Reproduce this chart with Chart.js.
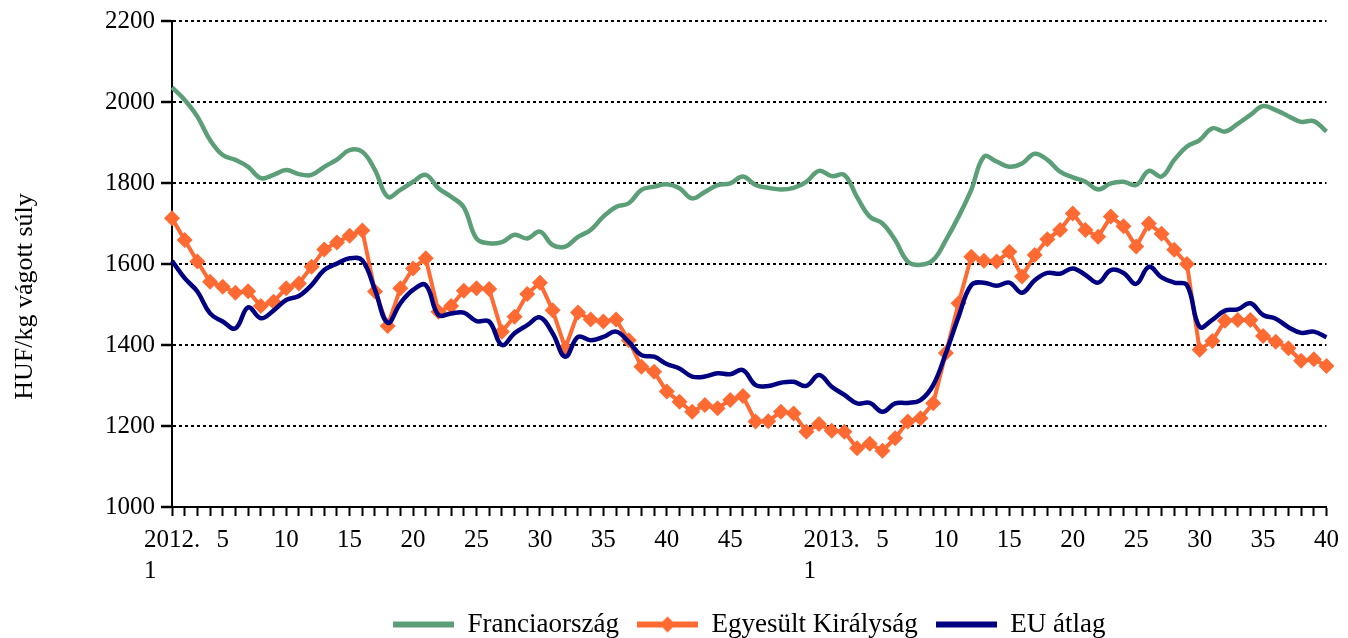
<!DOCTYPE html>
<html lang="hu">
<head>
<meta charset="utf-8">
<title>Sertésárak</title>
<script src="https://cdn.jsdelivr.net/npm/chart.js@4.4.1/dist/chart.umd.min.js"></script>
<style>
  html, body { margin: 0; padding: 0; background: #fff; }
  #grafikon { display: block; }
</style>
</head>
<body>
<canvas id="grafikon" width="1348" height="638"></canvas>
<script>
// Hetek (kategóriák)
const HETEK_2012 = [1, 2, 3, 4, 5, 6, 7, 8, 9, 10, 11, 12, 13, 14, 15, 16, 17, 18, 19, 20,
  21, 22, 23, 24, 25, 26, 27, 28, 29, 30, 31, 32, 33, 34, 35, 36, 37, 38, 39, 40,
  41, 42, 43, 44, 45, 46, 47, 48, 49, 50, 51, 52];
const HETEK_2013 = [1, 2, 3, 4, 5, 6, 7, 8, 9, 10, 11, 12, 13, 14, 15, 16, 17, 18, 19, 20,
  21, 22, 23, 24, 25, 26, 27, 28, 29, 30, 31, 32, 33, 34, 35, 36, 37, 38, 39, 40];

// Feliratozott hetek a vízszintes tengelyen
const FELIRAT_2012 = [1, 5, 10, 15, 20, 25, 30, 35, 40, 45];
const FELIRAT_2013 = [1, 5, 10, 15, 20, 25, 30, 35, 40];

// Árak, HUF/kg vágott súly
const FRANCIAORSZAG = [2036, 2005, 1964, 1906, 1869, 1857, 1840, 1812, 1820, 1832,
  1822, 1820, 1840, 1858, 1881, 1877, 1832, 1766, 1783, 1803,
  1820, 1787, 1766, 1740, 1663, 1651, 1654, 1672, 1663, 1680,
  1647, 1643, 1667, 1684, 1717, 1741, 1750, 1783, 1791, 1797,
  1787, 1762, 1778, 1795, 1799, 1816, 1795, 1788, 1784, 1788,
  1803, 1830, 1817, 1820, 1765, 1717, 1700, 1659, 1606, 1598,
  1610, 1659, 1717, 1783, 1865, 1853, 1840, 1848, 1872, 1857,
  1828, 1814, 1803, 1784, 1799, 1803, 1795, 1830, 1816, 1857,
  1890, 1906, 1935, 1927, 1946, 1968, 1990, 1980, 1965, 1951,
  1953, 1927];

const EGYESULT_KIRALYSAG = [1713, 1659, 1606, 1556, 1544, 1529, 1533, 1496, 1507, 1540,
  1552, 1593, 1636, 1653, 1670, 1683, 1532, 1447, 1540, 1589,
  1614, 1482, 1496, 1534, 1540, 1538, 1433, 1470, 1526, 1554,
  1486, 1392, 1480, 1463, 1458, 1463, 1412, 1346, 1334, 1285,
  1260, 1235, 1252, 1244, 1264, 1274, 1211, 1212, 1235, 1231,
  1186, 1205, 1188, 1186, 1145, 1156, 1139, 1170, 1211, 1219,
  1256, 1380, 1503, 1618, 1608, 1606, 1630, 1569, 1622, 1661,
  1684, 1725, 1684, 1667, 1717, 1693, 1643, 1700, 1675, 1635,
  1600, 1388, 1410, 1460, 1462, 1462, 1422, 1408, 1392, 1361,
  1365, 1348];

const EU_ATLAG = [1608, 1565, 1532, 1478, 1458, 1441, 1493, 1466, 1485, 1511,
  1521, 1548, 1585, 1601, 1614, 1609, 1536, 1455, 1503, 1536,
  1548, 1474, 1478, 1480, 1459, 1458, 1400, 1429, 1449, 1468,
  1429, 1371, 1420, 1412, 1420, 1433, 1408, 1375, 1371, 1353,
  1342, 1322, 1322, 1330, 1328, 1338, 1301, 1299, 1307, 1309,
  1299, 1326, 1297, 1277, 1256, 1257, 1235, 1256, 1257, 1264,
  1301, 1380, 1470, 1548, 1554, 1546, 1554, 1529, 1560, 1578,
  1576, 1589, 1573, 1554, 1585, 1578, 1551, 1593, 1567, 1554,
  1548, 1445, 1462, 1485, 1488, 1503, 1474, 1465, 1444, 1430,
  1433, 1419];

const SZIN_FR = "#5c9e78";
const SZIN_UK = "#ff6a33";
const SZIN_EU = "#000080";
const BETU = '"Liberation Serif", "Times New Roman", serif';
const NBSP = "\u00a0";

const cimkek = HETEK_2012.map((h) => "2012/" + h).concat(HETEK_2013.map((h) => "2013/" + h));

/** Kis vonal (+ rombusz) a jelmagyarázathoz */
function jelmagyarazatIkon(szin, rombusz) {
  const c = document.createElement("canvas");
  c.width = 61;
  c.height = 18;
  const g = c.getContext("2d");
  g.strokeStyle = szin;
  g.lineWidth = 6;
  g.beginPath();
  g.moveTo(0, 9);
  g.lineTo(61, 9);
  g.stroke();
  if (rombusz) {
    g.fillStyle = szin;
    g.beginPath();
    g.moveTo(30.5, 1);
    g.lineTo(38.5, 9);
    g.lineTo(30.5, 17);
    g.lineTo(22.5, 9);
    g.closePath();
    g.fill();
  }
  return c;
}

const ikonok = [
  jelmagyarazatIkon(SZIN_FR, false),
  jelmagyarazatIkon(SZIN_UK, true),
  jelmagyarazatIkon(SZIN_EU, false),
];

Chart.defaults.font.family = BETU;
Chart.defaults.color = "#000";

new Chart(document.getElementById("grafikon"), {
  type: "line",
  data: {
    labels: cimkek,
    datasets: [
      {
        label: "Franciaország",
        data: FRANCIAORSZAG,
        borderColor: SZIN_FR,
        backgroundColor: SZIN_FR,
        borderWidth: 4.5,
        pointRadius: 0,
        tension: 0.4,
        order: 2,
      },
      {
        label: "Egyesült Királyság",
        data: EGYESULT_KIRALYSAG,
        borderColor: SZIN_UK,
        backgroundColor: SZIN_UK,
        borderWidth: 4,
        pointStyle: "rectRot",
        pointRadius: 8,
        pointBorderWidth: 0,
        tension: 0,
        order: 1,
      },
      {
        label: "EU átlag",
        data: EU_ATLAG,
        borderColor: SZIN_EU,
        backgroundColor: SZIN_EU,
        borderWidth: 4.5,
        pointRadius: 0,
        tension: 0.4,
        order: 0,
      },
    ],
  },
  options: {
    responsive: false,
    animation: false,
    devicePixelRatio: 1,
    layout: { padding: { top: 21, right: 17, bottom: 0, left: 0 } },
    scales: {
      x: {
        offset: false,
        afterFit: (s) => { s.height = 86; },
        grid: {
          display: true,
          drawOnChartArea: false,
          drawTicks: true,
          tickLength: 9,
          tickColor: "#000",
          tickWidth: 2,
        },
        border: { display: true, color: "#000", width: 2 },
        ticks: {
          autoSkip: false,
          maxRotation: 0,
          minRotation: 0,
          padding: 9,
          font: { size: 25, lineHeight: 1.25 },
          callback: function (value) {
            const [ev, het] = this.getLabelForValue(value).split("/").map(Number);
            const lista = ev === 2012 ? FELIRAT_2012 : FELIRAT_2013;
            if (!lista.includes(het)) return "";
            if (het === 1) return [ev + ".", "1" + NBSP.repeat(7)];
            return String(het);
          },
        },
      },
      y: {
        min: 1000,
        max: 2200,
        afterFit: (s) => { s.width = 172; },
        grid: {
          color: "#000",
          lineWidth: 2,
          tickLength: 11,
          tickColor: "#000",
          tickWidth: 2.5,
          tickBorderDash: [],
        },
        border: { display: true, color: "#000", width: 2, dash: [3, 3] },
        ticks: {
          stepSize: 200,
          padding: 6,
          font: { size: 25 },
          callback: (v) => String(v),
        },
        title: {
          display: true,
          text: "HUF/kg vágott súly" + NBSP.repeat(10),
          font: { size: 26 },
          padding: { top: 10, bottom: 0 },
        },
      },
    },
    plugins: {
      tooltip: { enabled: false },
      legend: {
        position: "bottom",
        fullSize: false,
        maxHeight: 45,
        labels: {
          usePointStyle: true,
          pointStyleWidth: 61,
          padding: 18,
          font: { size: 27 },
          color: "#000",
          generateLabels: (chart) =>
            chart.data.datasets.map((ds, i) => ({
              text: ds.label,
              pointStyle: ikonok[i],
              fillStyle: ds.borderColor,
              strokeStyle: ds.borderColor,
              lineWidth: 0,
              hidden: false,
              datasetIndex: i,
              fontColor: "#000",
            })),
        },
      },
    },
  },
});
</script>
</body>
</html>
